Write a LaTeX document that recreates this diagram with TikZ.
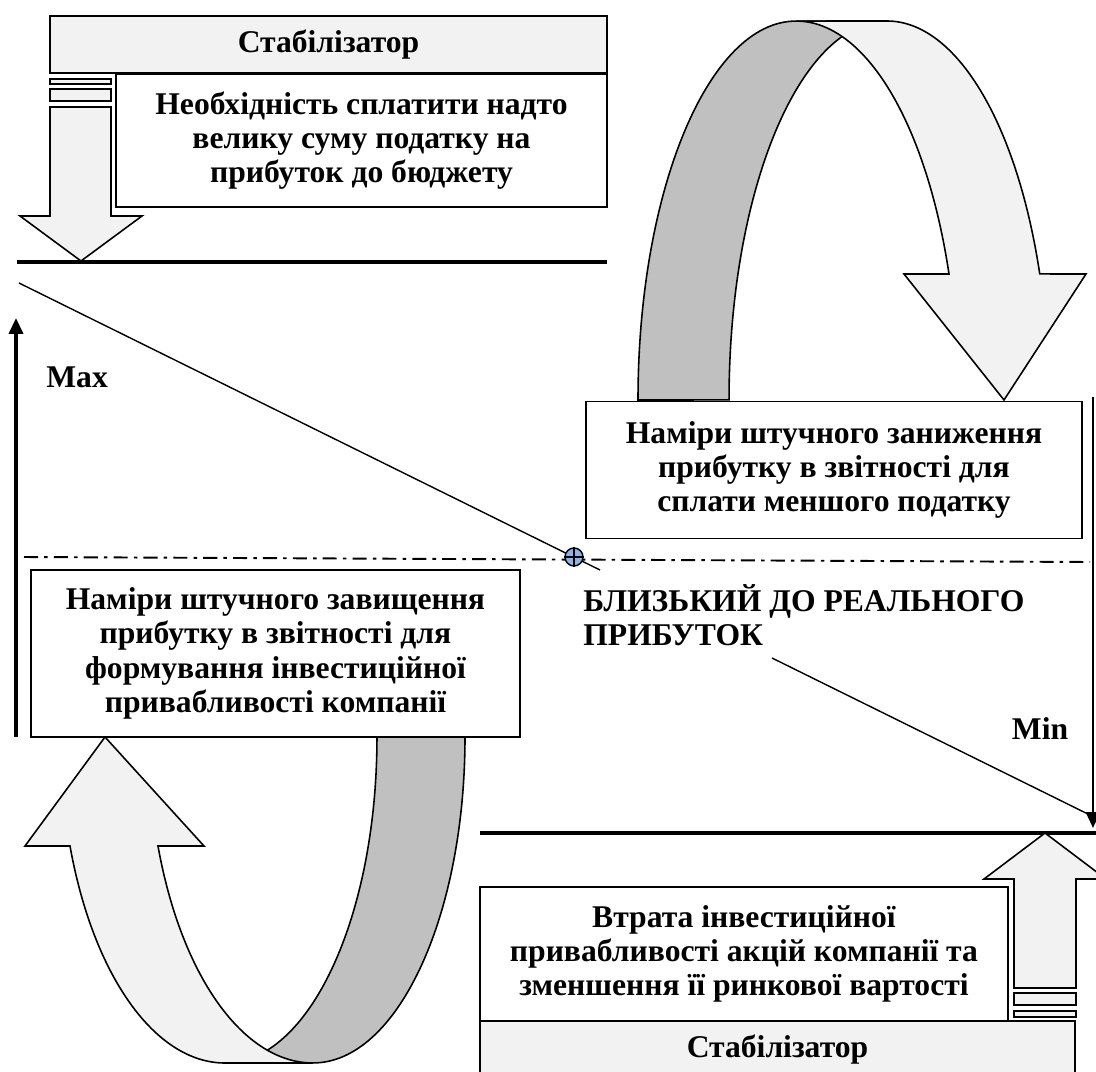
\documentclass[tikz,border=0pt]{standalone}
\usepackage{fontspec}
\setmainfont{Liberation Serif}
\usetikzlibrary{arrows.meta,positioning}
\definecolor{grayL}{HTML}{F2F2F2}
\definecolor{grayD}{HTML}{C0C0C0}
\definecolor{markblue}{HTML}{8DB4E2}
\tikzset{
  block/.style     = {rectangle, draw=black, line width=1.1pt, fill=white,
                      align=center, inner sep=2pt,
                      font=\bfseries\fontsize{18}{19.5}\selectfont},
  sblock/.style    = {block, fill=grayL},
  lbl/.style       = {inner sep=0pt, font=\bfseries\fontsize{18}{19.5}\selectfont},
  bar/.style       = {line width=2.8pt},
  trend/.style     = {line width=0.8pt},
  level/.style     = {line width=1.1pt, dash pattern=on 8pt off 3.5pt on 2pt off 3.5pt},
  vaxis/.style     = {line width=1.8pt, -{Triangle[length=9pt,width=8pt]}},
  stabarr/.style   = {draw, line width=0.9pt, fill=grayL},
  band/.style      = {draw, line width=0.9pt, fill=grayL},
  backband/.style  = {draw, line width=0.9pt, fill=grayD},
}

\begin{document}
\begin{tikzpicture}[x=0.02cm, y=0.02cm]
\useasboundingbox (0,0) rectangle (1096,-1072);

%% Curved arrows (behind the boxes)
\draw[backband] (638,-400) arc[start angle=180, end angle=90, x radius=3.16cm, y radius=7.58cm]
  -- (887,-21) arc[start angle=90, end angle=180, x radius=3.16cm, y radius=7.58cm] -- cycle;
\draw[band] (1004,-400) -- (904,-274) -- (949,-274)
  arc[start angle=19.42, end angle=90, x radius=3.24cm, y radius=7.58cm] -- (887,-21)
  arc[start angle=90, end angle=19.42, x radius=3.24cm, y radius=7.58cm] -- (1086,-274) -- cycle;

\draw[backband] (465,-737) arc[start angle=0, end angle=-90, x radius=3.04cm, y radius=6.52cm]
  -- (225,-1063) arc[start angle=-90, end angle=0, x radius=3.04cm, y radius=6.52cm] -- cycle;
\draw[band] (105,-737) -- (204,-846) -- (158,-846)
  arc[start angle=199.53, end angle=270, x radius=3.29cm, y radius=6.52cm] -- (225,-1063)
  arc[start angle=270, end angle=199.53, x radius=3.29cm, y radius=6.52cm] -- (25,-846) -- cycle;

%% Upper stabilizer
\node[sblock, minimum width=11.14cm, minimum height=1.14cm] (stabtop) at (328.5,-44.5) {Стабілізатор};
\node[block, minimum width=9.82cm, minimum height=2.66cm] (tax) at (361.5,-140.5)
  {Необхідність сплатити надто\\велику суму податку на\\прибуток до бюджету};
\draw[stabarr] (50,-79) rectangle (111,-84);
\draw[stabarr] (50,-89) rectangle (111,-101);
\draw[stabarr] (50,-107) -- (111,-107) -- (111,-216) -- (142,-216) -- (81,-261)
  -- (20,-216) -- (50,-216) -- cycle;
\draw[bar] (17,-262) -- (607,-262);

%% Profit line
\coordinate (t0) at (19,-283);
\coordinate (t1) at (600,-570);
\coordinate (t2) at (772,-658);
\coordinate (t3) at (1096,-818);
\draw[trend] (t0) -- (t1);
\draw[trend] (t2) -- (t3);

%% Axes
\coordinate (maxb) at (16,-737);
\coordinate (maxt) at (16,-318);
\draw[vaxis] (maxb) -- (maxt);
\coordinate (mint) at (1093,-397);
\coordinate (minb) at (1093,-828);
\draw[vaxis, line width=1.4pt] (mint) -- (minb);
\node[lbl, anchor=west] (max) at (46,-377) {Max};
\node[lbl] (min) at (1040,-729) {Min};

%% Middle boxes
\node[block, minimum width=9.92cm, minimum height=2.74cm] (under) at (834,-470)
  {Наміри штучного заниження\\прибутку в звітності для\\сплати меншого податку};
\node[block, minimum width=9.78cm, minimum height=3.34cm] (over) at (275.5,-653.5)
  {Наміри штучного завищення\\прибутку в звітності для\\формування інвестиційної\\привабливості компанії};

%% Real profit level
\coordinate (l0) at (24,-557);
\coordinate (l1) at (1090,-562);
\draw[level] (l0) -- (l1);
\node[circle, draw, line width=0.8pt, fill=markblue, minimum size=0.36cm, inner sep=0pt] (eq) at (574,-557) {};
\draw[line width=0.8pt] (eq.north) -- (eq.south) (eq.west) -- (eq.east);
\node[lbl, anchor=north west, align=left] (real) at (583,-584) {БЛИЗЬКИЙ ДО РЕАЛЬНОГО\\ПРИБУТОК};

%% Lower stabilizer
\draw[bar] (480,-833) -- (1096,-833);
\node[block, minimum width=10.56cm, minimum height=2.68cm] (loss) at (744,-954)
  {Втрата інвестиційної\\привабливості акцій компанії та\\зменшення її ринкової вартості};
\node[sblock, minimum width=11.9cm, minimum height=1.16cm] (stabbot) at (777.5,-1050) {Стабілізатор};
\draw[stabarr] (1014,-1011) rectangle (1076,-1017);
\draw[stabarr] (1014,-993) rectangle (1076,-1005);
\draw[stabarr] (1014,-988) -- (1076,-988) -- (1076,-879) -- (1106,-879) -- (1045,-833)
  -- (984,-879) -- (1014,-879) -- cycle;

\end{tikzpicture}
\end{document}
